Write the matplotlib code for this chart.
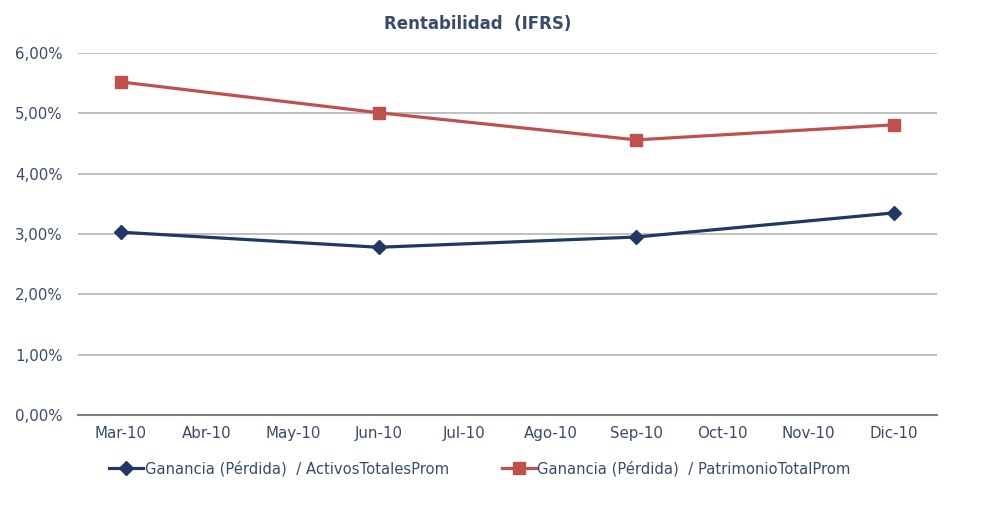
import numpy as np
import matplotlib.pyplot as plt

MONTHS = ["Mar-10", "Abr-10", "May-10", "Jun-10", "Jul-10",
          "Ago-10", "Sep-10", "Oct-10", "Nov-10", "Dic-10"]

# only quarterly values are reported (None = no data that month)
ACTIVOS = [3.03, None, None, 2.78, None, None, 2.95, None, None, 3.35]
PATRIMONIO = [5.52, None, None, 5.01, None, None, 4.56, None, None, 4.81]

LABEL_ACTIVOS = "Ganancia (Pérdida)  / ActivosTotalesProm"
LABEL_PATRIMONIO = "Ganancia (Pérdida)  / PatrimonioTotalProm"

TEXT = "#3a4a6b"
BLUE = "#1f3864"
RED = "#c0504d"


def valid(series):
    x = [i for i, v in enumerate(series) if v is not None]
    y = [series[i] for i in x]
    return x, y


def main():
    plt.rcParams['font.family'] = ['DejaVu Sans']
    fig = plt.figure(figsize=(9.82, 5.29), dpi=100)
    ax = fig.add_axes([78 / 982, 114 / 529, 859 / 982, 362 / 529])

    x, y = valid(ACTIVOS)
    ax.plot(x, y, color=BLUE, lw=2.3, marker='D', ms=7, label=LABEL_ACTIVOS)
    x, y = valid(PATRIMONIO)
    ax.plot(x, y, color=RED, lw=2.3, marker='s', ms=8, label=LABEL_PATRIMONIO)

    ax.set_xlim(-0.5, len(MONTHS) - 0.5)
    ax.set_xticks(range(len(MONTHS)))
    ax.set_xticklabels(MONTHS)
    ax.set_ylim(0, 6)
    ax.set_yticks(range(0, 7))
    ax.set_yticklabels([f"{v},00%" for v in range(0, 7)])

    ax.grid(axis='y', color='#b4b4b4', lw=1.2)
    ax.set_axisbelow(True)
    for s in ['top', 'right', 'left']:
        ax.spines[s].set_visible(False)
    ax.spines['bottom'].set_color('#808080')
    ax.spines['bottom'].set_linewidth(1.5)
    ax.tick_params(length=0, labelsize=10.8, labelcolor=TEXT, pad=8)
    ax.tick_params(axis='y', pad=11)

    fig.text(478 / 982, 1 - 24 / 529, "Rentabilidad  (IFRS)", color=TEXT,
             fontsize=12, fontweight='bold', ha='center', va='center')

    ax.legend(loc='upper center', bbox_to_anchor=(0.468, -0.09), ncol=2,
              frameon=False, fontsize=10.6, labelcolor=TEXT,
              handlelength=2.3, handletextpad=0.1, columnspacing=3.6)

    fig.savefig("out.png", dpi=100)


if __name__ == '__main__':
    main()
